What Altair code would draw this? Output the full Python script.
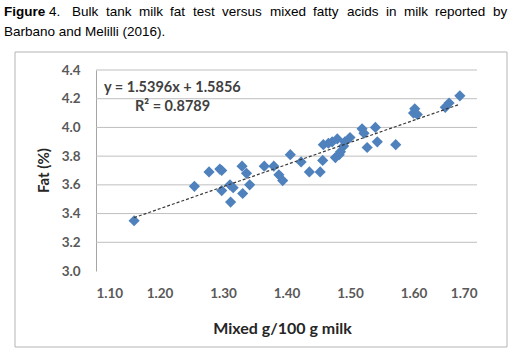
import altair as alt
import pandas as pd

# ---- data ----
mixed = [1.160, 1.255, 1.278, 1.295, 1.298, 1.298, 1.311, 1.312, 1.316, 1.330,
         1.331, 1.337, 1.342, 1.365, 1.380, 1.388, 1.394, 1.406, 1.423, 1.436,
         1.453, 1.457, 1.458, 1.466, 1.472, 1.477, 1.480, 1.483, 1.485, 1.490,
         1.492, 1.500, 1.519, 1.522, 1.527, 1.540, 1.543, 1.572, 1.600, 1.602,
         1.606, 1.650, 1.656, 1.673]
fat = [3.35, 3.59, 3.69, 3.71, 3.70, 3.56, 3.60, 3.48, 3.58, 3.73,
       3.54, 3.68, 3.60, 3.73, 3.73, 3.67, 3.63, 3.81, 3.76, 3.69,
       3.69, 3.77, 3.88, 3.89, 3.90, 3.79, 3.92, 3.81, 3.83, 3.87,
       3.90, 3.93, 3.99, 3.96, 3.86, 4.00, 3.90, 3.88, 4.10, 4.13,
       4.09, 4.14, 4.17, 4.22]
x_ticks = [1.10, 1.20, 1.30, 1.40, 1.50, 1.60, 1.70]
y_ticks = [3.0, 3.2, 3.4, 3.6, 3.8, 4.0, 4.2, 4.4]
y_grid = [3.2, 3.4, 3.6, 3.8, 4.0, 4.2, 4.4]
slope = 1.5396
intercept = 1.5856
eq_text = "y = 1.5396x + 1.5856"
r2_text = "R² = 0.8789"
caption_words = ["Figure", "4.", "Bulk", "tank", "milk", "fat", "test", "versus",
                 "mixed", "fatty", "acids", "in", "milk", "reported", "by"]
caption_line2 = "Barbano and Melilli (2016)."
x_title = "Mixed g/100 g milk"
y_title = "Fat (%)"

# ---- layout ----
LEFT, TOP = 96, 70
W, H = 381, 201
word_left = [4, 49, 72, 106, 139, 170, 193, 222, 270, 313, 347, 386, 404, 435, 493]

pts = pd.DataFrame({"x": mixed, "y": fat})
xmin, xmax = min(mixed), max(mixed)
trend = pd.DataFrame({"x": [xmin, xmax], "y": [slope * xmin + intercept, slope * xmax + intercept]})
grid_df = pd.DataFrame({"y": y_grid})

xs = alt.Scale(domain=[1.1, 1.7], nice=False)
ys = alt.Scale(domain=[3.0, 4.4], nice=False)

LBL = "#595959"
base_font = "Lato"

x_axis = alt.Axis(
    values=x_ticks, format=".2f", grid=False, domain=False, ticks=False,
    labelOverlap=False, tickCount=7,
    labelFont=base_font, labelFontWeight="bold", labelFontSize=13.5, labelColor=LBL,
    labelPadding=15, title=x_title, titleFont=base_font, titleFontWeight="bold",
    titleFontSize=16, titleColor="#262626", titleX=186, titleY=62,
    titleBaseline="alphabetic", titleAlign="center")
y_axis = alt.Axis(
    values=y_ticks, format=".1f", grid=False, labelOverlap=False, tickCount=8,
    domain=True, domainColor="#a6a6a6", ticks=False,
    labelFont=base_font, labelFontWeight="bold", labelFontSize=13.5, labelColor=LBL,
    labelPadding=16, title=y_title, titleFont=base_font, titleFontWeight="bold",
    titleFontSize=15, titleColor="#262626", titleX=-53, titleY=100,
    titleAngle=270, titleAlign="center", titleBaseline="middle")

grid = alt.Chart(grid_df).mark_rule(color="#bfbfbf", strokeWidth=1).encode(
    y=alt.Y("y:Q", scale=ys, axis=y_axis),
    x=alt.value(0), x2=alt.value(W),
)

points = alt.Chart(pts).mark_point(
    shape="diamond", filled=True, size=125, color="#4F81BD", opacity=1
).encode(
    x=alt.X("x:Q", scale=xs, axis=x_axis),
    y=alt.Y("y:Q", scale=ys, axis=y_axis),
)

line = alt.Chart(trend).mark_line(
    color="#3a3a3a", strokeWidth=1.2, strokeDash=[3, 2]
).encode(x=alt.X("x:Q", scale=xs, axis=x_axis), y=alt.Y("y:Q", scale=ys, axis=y_axis))

eq1 = alt.Chart(pd.DataFrame({"t": [eq_text]})).mark_text(
    align="left", baseline="middle", font=base_font, fontWeight="bold",
    fontSize=14.5, color="#404040"
).encode(text="t:N", x=alt.value(104 - LEFT), y=alt.value(88 - TOP))

eq2 = alt.Chart(pd.DataFrame({"t": [r2_text]})).mark_text(
    align="left", baseline="middle", font=base_font, fontWeight="bold",
    fontSize=14.5, color="#404040"
).encode(text="t:N", x=alt.value(135 - LEFT), y=alt.value(107 - TOP))

frame = alt.Chart(pd.DataFrame({"a": [0]})).mark_rect(
    fillOpacity=0, stroke="#b4b4b4", strokeWidth=1
).encode(x=alt.value(15 - LEFT), x2=alt.value(507 - LEFT),
         y=alt.value(52 - TOP), y2=alt.value(347 - TOP))

layers = [frame, grid, points, line, eq1, eq2]

for i, (w, xl) in enumerate(zip(caption_words, word_left)):
    layers.append(
        alt.Chart(pd.DataFrame({"t": [w]})).mark_text(
            align="left", baseline="alphabetic", font="Liberation Sans",
            fontSize=13.5, fontWeight="bold" if i == 0 else "normal", color="#000000"
        ).encode(text="t:N", x=alt.value(xl - LEFT), y=alt.value(16 - TOP))
    )

layers.append(
    alt.Chart(pd.DataFrame({"t": [caption_line2]})).mark_text(
        align="left", baseline="alphabetic", font="Liberation Sans",
        fontSize=13.5, color="#000000"
    ).encode(text="t:N", x=alt.value(4 - LEFT), y=alt.value(36 - TOP))
)

chart = alt.layer(*layers).properties(
    width=W, height=H,
    autosize=alt.AutoSizeParams(type="none"),
    padding={"left": LEFT, "top": TOP, "right": 514 - LEFT - W, "bottom": 354 - TOP - H},
    background="white",
).configure_view(stroke=None).configure_axis(labelOverlap=False)

chart.save("out.html", embed_options={"renderer": "svg", "actions": False})
